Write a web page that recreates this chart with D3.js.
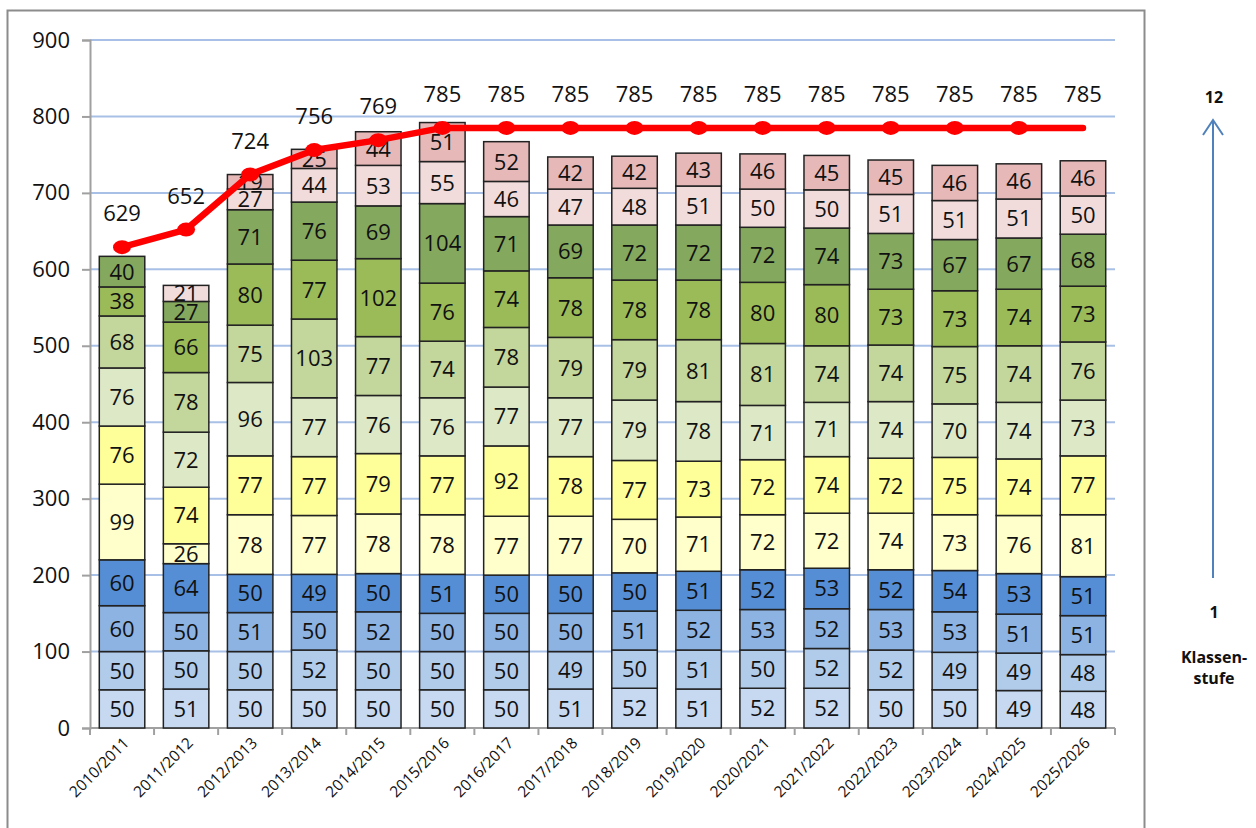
<!DOCTYPE html>
<html>
<head>
<meta charset="utf-8">
<script src="https://cdn.jsdelivr.net/npm/d3@7"></script>
<style>
  body { margin: 0; background: #fff; }
  svg { display: block; }
  text { font-family: "Open Sans", "Lato", sans-serif; }
</style>
</head>
<body>
<div id="chart"></div>
<script>
const years = ["2010/2011", "2011/2012", "2012/2013", "2013/2014", "2014/2015", "2015/2016",
  "2016/2017", "2017/2018", "2018/2019", "2019/2020", "2020/2021", "2021/2022",
  "2022/2023", "2023/2024", "2024/2025", "2025/2026"];

// pupils per Klassenstufe 1..12, one row per school year
const stufe1  = [50, 51, 50, 50, 50, 50, 50, 51, 52, 51, 52, 52, 50, 50, 49, 48];
const stufe2  = [50, 50, 50, 52, 50, 50, 50, 49, 50, 51, 50, 52, 52, 49, 49, 48];
const stufe3  = [60, 50, 51, 50, 52, 50, 50, 50, 51, 52, 53, 52, 53, 53, 51, 51];
const stufe4  = [60, 64, 50, 49, 50, 51, 50, 50, 50, 51, 52, 53, 52, 54, 53, 51];
const stufe5  = [99, 26, 78, 77, 78, 78, 77, 77, 70, 71, 72, 72, 74, 73, 76, 81];
const stufe6  = [76, 74, 77, 77, 79, 77, 92, 78, 77, 73, 72, 74, 72, 75, 74, 77];
const stufe7  = [76, 72, 96, 77, 76, 76, 77, 77, 79, 78, 71, 71, 74, 70, 74, 73];
const stufe8  = [68, 78, 75, 103, 77, 74, 78, 79, 79, 81, 81, 74, 74, 75, 74, 76];
const stufe9  = [38, 66, 80, 77, 102, 76, 74, 78, 78, 78, 80, 80, 73, 73, 74, 73];
const stufe10 = [40, 27, 71, 76, 69, 104, 71, 69, 72, 72, 72, 74, 73, 67, 67, 68];
const stufe11 = [0, 21, 27, 44, 53, 55, 46, 47, 48, 51, 50, 50, 51, 51, 51, 50];
const stufe12 = [0, 0, 19, 25, 44, 51, 52, 42, 42, 43, 46, 45, 45, 46, 46, 46];

const totals = [629, 652, 724, 756, 769, 785, 785, 785, 785, 785, 785, 785, 785, 785, 785, 785];
const yTicks = [0, 100, 200, 300, 400, 500, 600, 700, 800, 900];

const colors = ["#c6d9f1", "#b1cbea", "#8db3e2", "#558ed5", "#ffffcc", "#ffff99",
  "#dde8c6", "#c3d69b", "#9bbb59", "#84a85e", "#f2dcdb", "#e6b9b8"];

const series = [stufe1, stufe2, stufe3, stufe4, stufe5, stufe6, stufe7, stufe8, stufe9, stufe10, stufe11, stufe12];

const W = 1256, H = 828;
const plot = {left: 90, right: 1115, top: 40, bottom: 728};

const svg = d3.select("#chart").append("svg")
    .attr("width", W)
    .attr("height", H);

// chart frame
svg.append("rect")
    .attr("x", 7.5).attr("y", 10.5)
    .attr("width", 1137).attr("height", 830)
    .attr("fill", "none")
    .attr("stroke", "#8c8c8c")
    .attr("stroke-width", 2);

const x = d3.scaleBand()
    .domain(years)
    .range([plot.left, plot.right])
    .paddingInner(0.29)
    .paddingOuter(0.145);

const y = d3.scaleLinear()
    .domain([0, 900])
    .range([plot.bottom, plot.top]);

// gridlines
svg.append("g")
  .selectAll("line")
  .data(yTicks.filter(d => d > 0))
  .join("line")
    .attr("x1", plot.left).attr("x2", plot.right)
    .attr("y1", d => y(d)).attr("y2", d => y(d))
    .attr("stroke", "#a8c0e6")
    .attr("stroke-width", 2);

// y axis
const yAxis = svg.append("g")
    .attr("transform", `translate(${plot.left},0)`)
    .call(d3.axisLeft(y).tickValues(yTicks).tickSize(8).tickPadding(12));
yAxis.select(".domain").attr("stroke", "#a0a0a0").attr("stroke-width", 2);
yAxis.selectAll(".tick line").attr("stroke", "#a0a0a0").attr("stroke-width", 2);
yAxis.selectAll(".tick text")
    .attr("font-size", 22)
    .attr("fill", "#111")
    .style("font-family", "'Open Sans', sans-serif");

// x axis line + ticks at category boundaries
const step = x.step();
const xAxisG = svg.append("g");
xAxisG.append("line")
    .attr("x1", plot.left).attr("x2", plot.right)
    .attr("y1", plot.bottom).attr("y2", plot.bottom)
    .attr("stroke", "#a0a0a0").attr("stroke-width", 2);
xAxisG.selectAll("line.tk")
  .data(d3.range(years.length + 1))
  .join("line")
    .attr("class", "tk")
    .attr("x1", i => plot.left + i * step).attr("x2", i => plot.left + i * step)
    .attr("y1", plot.bottom).attr("y2", plot.bottom + 7)
    .attr("stroke", "#a0a0a0").attr("stroke-width", 2);
xAxisG.selectAll("text")
  .data(years)
  .join("text")
    .attr("transform", d => `translate(${x(d) + x.bandwidth() / 2 + 8},${plot.bottom + 16}) rotate(-45)`)
    .attr("text-anchor", "end")
    .attr("font-size", 15.5)
    .attr("fill", "#111")
    .text(d => d);

// stacked bars
const table = years.map((yr, i) => {
  const row = {year: yr};
  series.forEach((s, k) => row["k" + k] = s[i]);
  return row;
});
const keys = series.map((s, k) => "k" + k);
const stacked = d3.stack().keys(keys)(table);

const layers = svg.append("g")
  .selectAll("g")
  .data(stacked)
  .join("g")
    .attr("fill", (d, k) => colors[k]);

layers.selectAll("rect")
  .data(d => d.filter(p => p[1] - p[0] > 0))
  .join("rect")
    .attr("x", d => x(d.data.year))
    .attr("y", d => y(d[1]))
    .attr("width", x.bandwidth())
    .attr("height", d => y(d[0]) - y(d[1]))
    .attr("stroke", "#222")
    .attr("stroke-width", 1.5);

layers.selectAll("text")
  .data(d => d.filter(p => p[1] - p[0] > 0))
  .join("text")
    .attr("x", d => x(d.data.year) + x.bandwidth() / 2)
    .attr("y", d => (y(d[0]) + y(d[1])) / 2 + 8)
    .attr("text-anchor", "middle")
    .attr("font-size", 22)
    .attr("fill", "#111")
    .text(d => d[1] - d[0]);

// total line
const cx = d => x(d) + x.bandwidth() / 2;
const line = d3.line()
    .x((d, i) => cx(years[i]))
    .y(d => y(d));

svg.append("path")
    .datum(totals)
    .attr("d", line)
    .attr("fill", "none")
    .attr("stroke", "#ff0000")
    .attr("stroke-width", 6.5)
    .attr("stroke-linejoin", "round")
    .attr("stroke-linecap", "round");

svg.append("g")
  .selectAll("ellipse")
  .data(totals.slice(0, totals.length - 1))
  .join("ellipse")
    .attr("cx", (d, i) => cx(years[i]))
    .attr("cy", d => y(d))
    .attr("rx", 9).attr("ry", 7)
    .attr("fill", "#ff0000");

svg.append("g")
  .selectAll("text")
  .data(totals)
  .join("text")
    .attr("x", (d, i) => cx(years[i]))
    .attr("y", d => y(d) - 26)
    .attr("text-anchor", "middle")
    .attr("font-size", 22)
    .attr("fill", "#111")
    .text(d => d);

// Klassenstufe annotation
const note = svg.append("g").attr("font-family", "'Liberation Sans', Arial, sans-serif")
    .attr("font-weight", "bold").attr("font-size", 16).attr("fill", "#111")
    .attr("text-anchor", "middle");
note.append("text").attr("x", 1214).attr("y", 103).text("12");
note.append("text").attr("x", 1214).attr("y", 618).text("1");
note.append("text").attr("x", 1214).attr("y", 663).text("Klassen-");
note.append("text").attr("x", 1214).attr("y", 684).text("stufe");

svg.append("line")
    .attr("x1", 1213).attr("x2", 1213)
    .attr("y1", 578).attr("y2", 120)
    .attr("stroke", "#4f81bd").attr("stroke-width", 2);
svg.append("path")
    .attr("d", "M1203,135 L1213,120 L1223,135")
    .attr("fill", "none")
    .attr("stroke", "#4f81bd").attr("stroke-width", 2);
</script>
</body>
</html>
